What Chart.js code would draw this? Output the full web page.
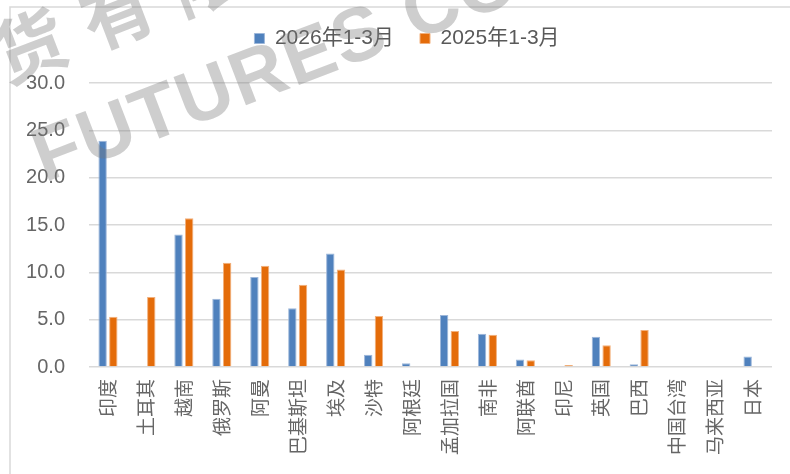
<!DOCTYPE html>
<html>
<head>
<meta charset="utf-8">
<script src="https://cdn.jsdelivr.net/npm/chart.js@4"></script>
<style>
  html, body { margin: 0; padding: 0; background: #fff; }
  #wrap { width: 790px; height: 474px; }
</style>
</head>
<body>
<div id="wrap"><canvas id="exportChart" width="790" height="474"></canvas></div>
<script>
// data
const categories = ['印度','土耳其','越南','俄罗斯','阿曼','巴基斯坦','埃及','沙特','阿根廷','孟加拉国','南非','阿联酋','印尼','英国','巴西','中国台湾','马来西亚','日本'];
const seriesNames = ['2026年1-3月', '2025年1-3月'];
const values2026 = [23.9, null, 14.0, 7.2, 9.5, 6.2, 12.0, 1.3, 0.4, 5.5, 3.5, 0.8, null, 3.2, 0.3, null, null, 1.1];
const values2025 = [5.3, 7.4, 15.7, 11.0, 10.7, 8.7, 10.3, 5.4, null, 3.8, 3.4, 0.7, 0.2, 2.3, 3.9, null, null, null];
const yTicks = [0, 5, 10, 15, 20, 25, 30];

const textGrey = '#666666';
const gridGrey = '#d9d9d9';

// frame lines + faint watermark
const frameAndMark = {
  id: 'frameAndMark',
  beforeInit(chart) {
    // push the plot down below the legend
    const fit = chart.legend.fit;
    chart.legend.fit = function () {
      fit.bind(chart.legend)();
      this.height += 24;
    };
  },
  beforeDraw(chart) {
    const ctx = chart.ctx;
    ctx.save();
    ctx.strokeStyle = gridGrey;
    ctx.lineWidth = 1.5;
    ctx.beginPath();
    ctx.moveTo(10, 474);
    ctx.lineTo(10, 7);
    ctx.lineTo(790, 7);
    ctx.stroke();
    ctx.restore();
  },
  afterDraw(chart) {
    const ctx = chart.ctx;
    ctx.save();
    ctx.translate(37, 163);
    ctx.rotate(-21 * Math.PI / 180);
    ctx.fillStyle = 'rgba(120,120,120,0.36)';
    ctx.font = 'bold 76px "Liberation Sans", sans-serif';
    ctx.letterSpacing = '2px';
    ctx.fillText('FUTURES CO., LTD', 0, 0);
    ctx.font = 'bold 72px "Noto Sans CJK SC", sans-serif';
    ctx.letterSpacing = '22px';
    ctx.fillText('期货有限公司', -95, -112);
    ctx.restore();
  }
};

new Chart(document.getElementById('exportChart'), {
  type: 'bar',
  data: {
    labels: categories,
    datasets: [
      {
        label: seriesNames[0],
        data: values2026,
        backgroundColor: '#4F81BD',
        borderColor: '#9DB7DA',
        borderWidth: 1,
        categoryPercentage: 0.564,
        barPercentage: 0.785
      },
      {
        label: seriesNames[1],
        data: values2025,
        backgroundColor: '#E46C0A',
        borderColor: '#F2B07C',
        borderWidth: 1,
        categoryPercentage: 0.564,
        barPercentage: 0.785
      }
    ]
  },
  options: {
    responsive: false,
    animation: false,
    layout: { padding: { left: 24, right: 0, top: 2, bottom: 0 } },
    plugins: {
      legend: {
        position: 'top',
        labels: {
          boxWidth: 10,
          boxHeight: 10,
          padding: 26,
          color: '#595959',
          font: { size: 21, family: '"Liberation Sans", "Noto Sans CJK SC", sans-serif' }
        }
      },
      tooltip: { enabled: false }
    },
    scales: {
      x: {
        grid: { display: false, drawTicks: false },
        border: { display: false },
        ticks: {
          autoSkip: false,
          minRotation: 90,
          maxRotation: 90,
          padding: 12,
          color: textGrey,
          font: { size: 19, family: '"Noto Sans CJK SC", sans-serif' }
        },
        afterFit(scale) {
          scale.height = 107;
          scale.paddingRight = 18;
        }
      },
      y: {
        min: 0,
        max: 30,
        afterBuildTicks(scale) { scale.ticks = yTicks.map(v => ({ value: v })); },
        grid: { color: gridGrey, lineWidth: 1.5, drawTicks: false },
        border: { display: false },
        ticks: {
          padding: 24,
          color: textGrey,
          font: { size: 20, family: '"Liberation Sans", sans-serif' },
          callback: v => Number(v).toFixed(1)
        },
        afterFit(scale) { scale.width = 65; }
      }
    }
  },
  plugins: [frameAndMark]
});
</script>
</body>
</html>
